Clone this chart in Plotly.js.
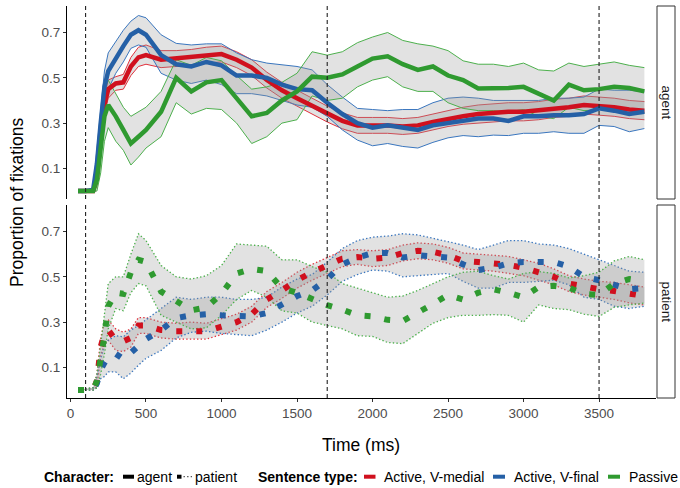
<!DOCTYPE html>
<html>
<head>
<meta charset="utf-8">
<script src="https://cdn.plot.ly/plotly-3.0.1.min.js"></script>
<style>html,body{margin:0;padding:0;background:#fff;}#chart{width:680px;height:488px;}</style>
</head>
<body>
<div id="chart"></div>
<script>
// ---- data ----
const time = [50,100,150,175,200,225,250,300,350,400,450,500,600,700,800,900,1000,1100,1200,1300,1400,1500,1600,1700,1800,1900,2000,2100,2200,2300,2400,2500,2600,2700,2800,2900,3000,3100,3200,3300,3400,3500,3600,3700,3800];

const xTicks = [0,500,1000,1500,2000,2500,3000,3500];
const yTicks = [0.1,0.3,0.5,0.7];
const cueTimes = [100,1700,3500];
const panelLabels = ["agent","patient"];
const sentenceTypes = ["Active, V-medial","Active, V-final","Passive"];
const characterTypes = ["agent","patient"];

// agent panel
const agentMedialMean = [0,0,0,0.06,0.22,0.38,0.45,0.475,0.48,0.55,0.59,0.60, 0.58,0.585,0.59,0.60,0.605, 0.58,0.545,0.49,0.445,0.41,0.375,0.34,0.31,0.29,0.29, 0.29,0.285,0.29,0.305,0.32,0.33,0.34,0.345,0.35,0.35, 0.355,0.365,0.37,0.38,0.375,0.37,0.36,0.355];
const agentMedialHi = [0.005,0.005,0.01,0.10,0.27,0.42,0.49,0.505,0.515,0.59,0.635,0.645, 0.62,0.62,0.625,0.635,0.64, 0.615,0.58,0.525,0.48,0.445,0.41,0.375,0.345,0.325,0.325, 0.325,0.32,0.325,0.34,0.355,0.37,0.38,0.385,0.39,0.39, 0.395,0.405,0.41,0.42,0.415,0.41,0.40,0.395];
const agentMedialLo = [0,0,0,0.02,0.17,0.34,0.41,0.445,0.45,0.51,0.55,0.56, 0.545,0.55,0.555,0.565,0.57, 0.545,0.51,0.455,0.41,0.375,0.34,0.305,0.275,0.255,0.255, 0.255,0.25,0.255,0.27,0.285,0.295,0.30,0.305,0.31,0.31, 0.315,0.325,0.33,0.34,0.335,0.33,0.32,0.315];

const agentFinalMean = [0,0,0.005,0.12,0.30,0.46,0.53,0.59,0.64,0.69,0.71,0.69, 0.60,0.56,0.55,0.57,0.555, 0.51,0.51,0.50,0.47,0.45,0.445,0.39,0.34,0.30,0.28, 0.29,0.28,0.27,0.29,0.30,0.31,0.32,0.32,0.31,0.33, 0.33,0.335,0.335,0.34,0.365,0.355,0.34,0.35];
const agentFinalHi = [0.005,0.005,0.01,0.18,0.38,0.53,0.61,0.66,0.71,0.75,0.775,0.765, 0.69,0.652,0.645,0.65,0.65, 0.61,0.58,0.565,0.556,0.55,0.535,0.47,0.415,0.365,0.36, 0.355,0.36,0.36,0.39,0.41,0.415,0.41,0.40,0.40,0.40, 0.40,0.41,0.41,0.415,0.45,0.445,0.445,0.438];
const agentFinalLo = [0,0,0,0.03,0.18,0.37,0.45,0.52,0.57,0.63,0.645,0.635, 0.52,0.49,0.475,0.49,0.47, 0.43,0.43,0.42,0.40,0.38,0.37,0.33,0.27,0.225,0.20, 0.21,0.197,0.19,0.215,0.235,0.245,0.24,0.247,0.245,0.255, 0.255,0.262,0.255,0.255,0.29,0.285,0.262,0.276];

const agentPassiveMean = [0,0,0,0.05,0.18,0.33,0.38,0.33,0.27,0.21,0.24,0.27, 0.35,0.50,0.44,0.48,0.49, 0.41,0.33,0.345,0.40,0.44,0.505,0.50,0.515,0.55,0.585, 0.595,0.56,0.535,0.55,0.51,0.49,0.453,0.453,0.455,0.46, 0.43,0.40,0.47,0.445,0.45,0.46,0.455,0.44];
const agentPassiveHi = [0.005,0.005,0.01,0.12,0.30,0.45,0.49,0.43,0.37,0.33,0.35,0.37, 0.44,0.58,0.555,0.59,0.575, 0.51,0.45,0.46,0.48,0.52,0.615,0.60,0.615,0.655,0.68, 0.70,0.665,0.65,0.64,0.62,0.575,0.56,0.56,0.55,0.565, 0.535,0.53,0.565,0.55,0.56,0.57,0.555,0.545];
const agentPassiveLo = [0,0,0,0,0.08,0.22,0.28,0.22,0.18,0.115,0.15,0.19, 0.24,0.39,0.34,0.365,0.36, 0.30,0.21,0.24,0.30,0.315,0.42,0.40,0.41,0.46,0.49, 0.505,0.46,0.44,0.44,0.39,0.365,0.355,0.355,0.35,0.36, 0.33,0.32,0.37,0.355,0.36,0.36,0.355,0.345];

// patient panel
const patientMedialMean = [0,0,0,0.04,0.19,0.25,0.265,0.22,0.215,0.23,0.285,0.285, 0.265,0.26,0.262,0.26,0.28, 0.30,0.335,0.40,0.44,0.485,0.52,0.55,0.58,0.587,0.58, 0.585,0.605,0.615,0.61,0.595,0.57,0.565,0.56,0.553,0.54, 0.523,0.50,0.47,0.455,0.445,0.437,0.425,0.415];
const patientMedialHi = [0.005,0.005,0.01,0.07,0.23,0.30,0.31,0.27,0.255,0.27,0.32,0.32, 0.30,0.295,0.30,0.295,0.315, 0.335,0.37,0.435,0.475,0.52,0.555,0.585,0.615,0.62,0.615, 0.62,0.64,0.65,0.645,0.63,0.605,0.60,0.595,0.59,0.575, 0.56,0.535,0.505,0.49,0.48,0.475,0.465,0.455];
const patientMedialLo = [0,0,0,0.015,0.15,0.20,0.22,0.175,0.17,0.19,0.25,0.25, 0.23,0.225,0.225,0.225,0.245, 0.265,0.30,0.365,0.405,0.45,0.485,0.515,0.545,0.555,0.545, 0.55,0.57,0.58,0.575,0.56,0.535,0.53,0.525,0.515,0.505, 0.485,0.465,0.435,0.42,0.41,0.40,0.385,0.375];

const patientFinalMean = [0,0,0,0.03,0.09,0.12,0.145,0.16,0.137,0.165,0.195,0.225, 0.265,0.318,0.33,0.335,0.33, 0.33,0.325,0.34,0.38,0.415,0.44,0.49,0.555,0.585,0.605, 0.605,0.585,0.595,0.59,0.585,0.555,0.53,0.54,0.56,0.565, 0.563,0.565,0.545,0.50,0.485,0.465,0.445,0.45];
const patientFinalHi = [0.005,0.005,0.01,0.06,0.14,0.20,0.22,0.24,0.235,0.265,0.285,0.31, 0.36,0.41,0.40,0.41,0.41, 0.40,0.40,0.41,0.455,0.49,0.51,0.565,0.625,0.66,0.675, 0.68,0.69,0.685,0.67,0.655,0.64,0.62,0.64,0.66,0.66, 0.645,0.64,0.625,0.60,0.575,0.55,0.525,0.52];
const patientFinalLo = [0,0,0,0.01,0.05,0.06,0.08,0.08,0.05,0.075,0.11,0.14, 0.175,0.23,0.255,0.26,0.25, 0.245,0.24,0.265,0.30,0.34,0.37,0.42,0.48,0.51,0.53, 0.525,0.50,0.505,0.51,0.515,0.48,0.45,0.45,0.475,0.475, 0.48,0.485,0.465,0.41,0.40,0.37,0.36,0.37];

const patientPassiveMean = [0,0,0,0.04,0.13,0.24,0.37,0.43,0.425,0.52,0.575,0.565, 0.435,0.395,0.352,0.365,0.425, 0.515,0.535,0.525,0.45,0.43,0.40,0.375,0.355,0.33,0.325, 0.31,0.305,0.34,0.38,0.42,0.40,0.43,0.445,0.43,0.41, 0.455,0.46,0.452,0.425,0.42,0.47,0.49,0.48];
const patientPassiveHi = [0.005,0.005,0.01,0.07,0.20,0.33,0.47,0.50,0.50,0.60,0.69,0.66, 0.55,0.50,0.49,0.505,0.55, 0.645,0.64,0.635,0.575,0.575,0.545,0.52,0.47,0.45,0.428, 0.41,0.415,0.44,0.47,0.50,0.52,0.525,0.505,0.49,0.515, 0.523,0.515,0.495,0.505,0.52,0.57,0.59,0.575];
const patientPassiveLo = [0,0,0,0.01,0.07,0.16,0.27,0.36,0.35,0.43,0.47,0.46, 0.33,0.30,0.27,0.275,0.33, 0.40,0.44,0.41,0.35,0.34,0.30,0.285,0.27,0.24,0.237, 0.21,0.205,0.25,0.295,0.32,0.33,0.33,0.333,0.33,0.30, 0.376,0.36,0.355,0.335,0.325,0.365,0.376,0.384];

// ---- styling ----
const colors = ["#D0101E", "#2560A6", "#2F9A30"];
const edgeColors = ["#E2303C", "#3A76BE", "#4DB04D"];
const ribbonFill = "rgba(150,150,150,0.28)";
const FONT = "Liberation Sans, Arial, Helvetica, sans-serif";

const panels = [
  {axis: "y2", means: [agentMedialMean, agentFinalMean, agentPassiveMean],
   lo: [agentMedialLo, agentFinalLo, agentPassiveLo], hi: [agentMedialHi, agentFinalHi, agentPassiveHi],
   edgeDash: "solid", edgeWidth: 1, meanDash: "solid", meanWidth: 4.5},
  {axis: "y", means: [patientMedialMean, patientFinalMean, patientPassiveMean],
   lo: [patientMedialLo, patientFinalLo, patientPassiveLo], hi: [patientMedialHi, patientFinalHi, patientPassiveHi],
   edgeDash: "1.4px,2.2px", edgeWidth: 1.3, meanDash: "6px,14px", meanWidth: 6}
];

const traces = [];
panels.forEach(p => {
  for (let i = 0; i < 3; i++) {
    traces.push({x: time, y: p.lo[i], xaxis: "x", yaxis: p.axis, type: "scatter", mode: "lines",
      line: {color: edgeColors[i], width: p.edgeWidth, dash: p.edgeDash}, hoverinfo: "skip"});
    traces.push({x: time, y: p.hi[i], xaxis: "x", yaxis: p.axis, type: "scatter", mode: "lines",
      fill: "tonexty", fillcolor: ribbonFill,
      line: {color: edgeColors[i], width: p.edgeWidth, dash: p.edgeDash}, hoverinfo: "skip"});
  }
  for (let i = 0; i < 3; i++) {
    traces.push({x: time, y: p.means[i], xaxis: "x", yaxis: p.axis, type: "scatter", mode: "lines",
      name: sentenceTypes[i],
      line: {color: colors[i], width: p.meanWidth, dash: p.meanDash}});
  }
});

// geometry helpers (px -> paper)
const L = 67, R = 24, T = 6, B = 90, W = 680, H = 488;
const pw = W - L - R, ph = H - T - B;
const px = v => (v - L) / pw;
const py = v => (H - B - v) / ph;

const shapes = [];
cueTimes.forEach(c => {
  ["y domain", "y2 domain"].forEach(yr => {
    shapes.push({type: "line", xref: "x", yref: yr, x0: c, x1: c, y0: 0, y1: 1,
      line: {color: "#222", width: 1.1, dash: "4px,3px"}, layer: "above"});
  });
});
// facet strips
shapes.push({type: "rect", xref: "paper", yref: "paper", x0: px(657), x1: px(675), y0: py(199), y1: py(6),
  line: {color: "#333", width: 1}, fillcolor: "#fff"});
shapes.push({type: "rect", xref: "paper", yref: "paper", x0: px(657), x1: px(675), y0: py(398), y1: py(205),
  line: {color: "#333", width: 1}, fillcolor: "#fff"});

const legY = py(476.7);
// legend keys
shapes.push({type: "line", xref: "paper", yref: "paper", x0: px(123), x1: px(134), y0: legY, y1: legY, line: {color: "#000", width: 4}});
shapes.push({type: "line", xref: "paper", yref: "paper", x0: px(177), x1: px(181.5), y0: legY, y1: legY, line: {color: "#000", width: 4}});
shapes.push({type: "line", xref: "paper", yref: "paper", x0: px(183.5), x1: px(192), y0: legY, y1: legY, line: {color: "#555", width: 1.3, dash: "1.4px,2.2px"}});
const keyX = [[364, 375.5], [493, 505], [608, 620]];
keyX.forEach((k, i) => {
  shapes.push({type: "line", xref: "paper", yref: "paper", x0: px(k[0]), x1: px(k[1]), y0: legY, y1: legY,
    line: {color: colors[i], width: 4}});
});

const annotations = [
  {xref: "paper", yref: "paper", x: px(17), y: 0.5, text: "Proportion of fixations", textangle: -90,
   showarrow: false, font: {family: FONT, size: 17.5, color: "#000"}, xanchor: "center", yanchor: "middle"},
  {xref: "paper", yref: "paper", x: px(361), y: py(445), text: "Time (ms)",
   showarrow: false, font: {family: FONT, size: 17.5, color: "#000"}, xanchor: "center", yanchor: "middle"},
  {xref: "paper", yref: "paper", x: px(666), y: py(102.5), text: panelLabels[0], textangle: 90,
   showarrow: false, font: {family: FONT, size: 13.5, color: "#1A1A1A"}, xanchor: "center", yanchor: "middle"},
  {xref: "paper", yref: "paper", x: px(666), y: py(301.5), text: panelLabels[1], textangle: 90,
   showarrow: false, font: {family: FONT, size: 13.5, color: "#1A1A1A"}, xanchor: "center", yanchor: "middle"}
];
const legText = [
  [41.5, "<b>Character:</b>"], [135, characterTypes[0]], [193, characterTypes[1]],
  [255.5, "<b>Sentence type:</b>"], [382, sentenceTypes[0]], [512, sentenceTypes[1]], [627, sentenceTypes[2]]
];
legText.forEach(t => {
  annotations.push({xref: "paper", yref: "paper", x: px(t[0]), y: legY, text: t[1], showarrow: false,
    xanchor: "left", yanchor: "middle", font: {family: FONT, size: 14, color: "#000"}});
});

const yAxisBase = {
  range: [-0.035, 0.817], anchor: "x", tickvals: yTicks, ticktext: yTicks.map(v => v.toFixed(1)),
  ticks: "outside", ticklen: 3, tickwidth: 1, tickcolor: "#333",
  showline: true, linecolor: "#000", linewidth: 1, showgrid: false, zeroline: false,
  tickfont: {family: FONT, size: 13.5, color: "#4D4D4D"}
};

const layout = {
  width: W, height: H,
  margin: {l: L, r: R, t: T, b: B, pad: 0},
  paper_bgcolor: "#fff", plot_bgcolor: "#fff",
  showlegend: false,
  font: {family: FONT},
  xaxis: {range: [-23, 3877], domain: [0, 1], anchor: "y", tickvals: xTicks, ticktext: xTicks.map(String),
    ticks: "outside", ticklen: 3, tickwidth: 1, tickcolor: "#333",
    showline: true, linecolor: "#000", linewidth: 1, showgrid: false, zeroline: false,
    tickfont: {family: FONT, size: 13.5, color: "#4D4D4D"}},
  yaxis: Object.assign({}, yAxisBase, {domain: [0, py(205)]}),
  yaxis2: Object.assign({}, yAxisBase, {domain: [py(199), 1]}),
  shapes: shapes,
  annotations: annotations
};

Plotly.newPlot("chart", traces, layout, {displayModeBar: false, staticPlot: true});
</script>
</body>
</html>
